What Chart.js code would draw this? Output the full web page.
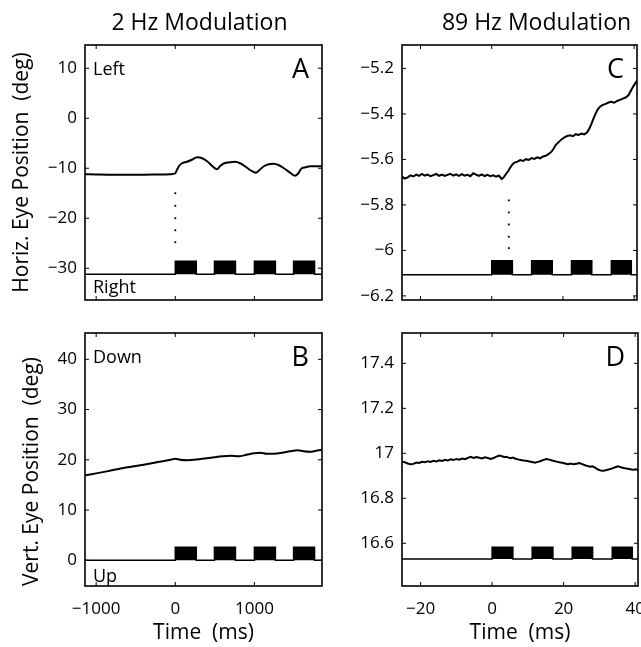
<!DOCTYPE html>
<html><head><meta charset="utf-8">
<script src="https://cdn.jsdelivr.net/npm/chart.js@4.4.0/dist/chart.umd.min.js"></script>
<style>
html,body{margin:0;padding:0;background:#fff;}
#wrap{position:relative;width:641px;height:647px;overflow:hidden;background:#fff;}
canvas{position:absolute;left:0;top:0;}
</style></head>
<body><div id="wrap">
<canvas id="cA" width="641" height="647"></canvas>
<canvas id="cB" width="641" height="647"></canvas>
<canvas id="cC" width="641" height="647"></canvas>
<canvas id="cD" width="641" height="647"></canvas>
</div>
<script>
// ---------------- data ----------------
const xTicks2Hz = [-1000, 0, 1000];
const xTicks89Hz = [-20, 0, 20, 40];
const yTicksA = [-30, -20, -10, 0, 10];
const yTicksB = [0, 10, 20, 30, 40];
const yTicksC = [-6.2, -6, -5.8, -5.6, -5.4, -5.2];
const yTicksD = [16.6, 16.8, 17, 17.2, 17.4];

// Panel A: horizontal eye position, 2 Hz (time in ms, deg)
const timeA = [-1141, -1000, -800, -600, -400, -200, -60, 0, 22, 50, 85, 147, 210, 277, 340, 410, 470, 526, 570, 620,
  690, 757, 820, 890, 960, 1018, 1060, 1120, 1180, 1240, 1310, 1390, 1460, 1513, 1550, 1598, 1650, 1703, 1780, 1854];
const horizA = [-11.2, -11.25, -11.3, -11.3, -11.3, -11.25, -11.2, -11.0, -10.3, -9.5, -9.0, -8.7, -8.3, -7.8, -8.0, -8.7, -9.6, -10.2, -9.5, -9.0,
  -8.8, -8.7, -9.0, -9.7, -10.5, -10.9, -10.4, -9.6, -9.2, -9.1, -9.4, -10.2, -11.0, -11.5, -11.1, -10.0, -9.8, -9.6, -9.6, -9.6];

// Panel B: vertical eye position, 2 Hz
const timeB = [-1141, -1000, -800, -600, -400, -200, -60, 0, 60, 150, 300, 450, 600, 700, 800, 900, 1000, 1080, 1150, 1250,
  1350, 1450, 1550, 1620, 1700, 1780, 1854];
const vertB = [16.9, 17.3, 17.9, 18.5, 19.0, 19.6, 20.0, 20.2, 20.0, 19.9, 20.1, 20.4, 20.7, 20.8, 20.7, 21.0, 21.3, 21.4, 21.2, 21.2,
  21.4, 21.7, 21.9, 21.7, 21.6, 21.8, 22.0];

// Panels C and D: 89 Hz (time in ms)
const time89 = [-25.2, -24.4, -23.6, -22.8, -22.0, -21.2, -20.4, -19.6, -18.8, -18.0,
  -17.2, -16.4, -15.6, -14.8, -14.0, -13.2, -12.4, -11.6, -10.8, -10.0,
  -9.2, -8.4, -7.6, -6.8, -6.0, -5.2, -4.4, -3.6, -2.8, -2.0,
  -1.2, -0.4, 0.4, 1.2, 2.0, 2.8, 3.4, 4.0, 4.6, 5.2,
  5.8, 6.4, 7.2, 8.0, 8.8, 9.6, 10.4, 11.2, 12.0, 12.8,
  13.6, 14.4, 15.2, 16.0, 16.8, 17.4, 18.0, 18.8, 19.6, 20.4,
  21.2, 22.0, 22.8, 23.6, 24.4, 25.2, 26.0, 26.8, 27.4, 28.0,
  28.6, 29.2, 29.8, 30.4, 31.2, 32.0, 32.8, 33.6, 34.4, 35.2,
  36.0, 36.8, 37.6, 38.4, 39.0, 39.6, 40.2, 40.8];
const horizC = [-5.676, -5.684, -5.679, -5.670, -5.675, -5.667, -5.672, -5.664, -5.671, -5.667,
  -5.674, -5.669, -5.664, -5.672, -5.667, -5.673, -5.668, -5.663, -5.671, -5.666,
  -5.672, -5.665, -5.671, -5.668, -5.674, -5.661, -5.667, -5.672, -5.666, -5.673,
  -5.668, -5.674, -5.670, -5.676, -5.671, -5.686, -5.678, -5.664, -5.652, -5.636,
  -5.622, -5.614, -5.610, -5.603, -5.607, -5.599, -5.602, -5.594, -5.598, -5.591,
  -5.595, -5.587, -5.584, -5.576, -5.566, -5.552, -5.536, -5.524, -5.512, -5.503,
  -5.497, -5.494, -5.498, -5.489, -5.492, -5.486, -5.490, -5.481, -5.465, -5.444,
  -5.420, -5.398, -5.380, -5.368, -5.360, -5.356, -5.350, -5.347, -5.351, -5.343,
  -5.338, -5.333, -5.328, -5.318, -5.300, -5.283, -5.268, -5.255];
const vertD = [16.963, 16.960, 16.955, 16.951, 16.953, 16.959, 16.957, 16.962, 16.960, 16.965,
  16.962, 16.967, 16.964, 16.969, 16.966, 16.971, 16.968, 16.973, 16.970, 16.975,
  16.972, 16.977, 16.974, 16.980, 16.984, 16.979, 16.983, 16.980, 16.977, 16.982,
  16.979, 16.975, 16.979, 16.985, 16.990, 16.987, 16.983, 16.985, 16.981, 16.978,
  16.981, 16.977, 16.973, 16.970, 16.968, 16.967, 16.964, 16.961, 16.958, 16.962,
  16.966, 16.971, 16.975, 16.972, 16.968, 16.966, 16.963, 16.960, 16.958, 16.955,
  16.952, 16.955, 16.951, 16.954, 16.957, 16.952, 16.947, 16.943, 16.940, 16.942,
  16.938, 16.932, 16.927, 16.923, 16.922, 16.926, 16.929, 16.933, 16.938, 16.942,
  16.938, 16.935, 16.932, 16.930, 16.928, 16.927, 16.929, 16.925];

// Stimulus (modulation) periods
const stimOn2Hz = [0, 495, 1000, 1495];
const stimOff2Hz = [265, 760, 1265, 1760];
const stimOn89Hz = [0, 11.2, 22.4, 33.6];
const stimOff89Hz = [5.8, 17.0, 28.1, 39.2];
const stimLevelsA = [-31.2, -28.6];
const stimLevelsB = [0, 2.6];
const stimLevelsC = [-6.107, -6.046];
const stimLevelsD = [16.53, 16.582];

// Dotted markers
const markerTimeA = 0;
const markerA = [-15, -17.5, -20, -22.4, -24.8];
const markerTimeC = 4.8;
const markerC = [-5.78, -5.833, -5.886, -5.94, -5.99];

// ---------------- drawing ----------------
const FONT = "'Open Sans', 'Noto Sans', sans-serif";
const minus = v => String(v).replace('-', '\u2212');

function stimPoints(on, off, levels, xmin, xmax) {
  const [base, top] = levels;
  const pts = [{x: xmin, y: base}];
  on.forEach((t, i) => {
    pts.push({x: t, y: base}, {x: t, y: top}, {x: off[i], y: top}, {x: off[i], y: base});
  });
  pts.push({x: xmax, y: base});
  return pts;
}
const zip = (xs, ys) => xs.map((x, i) => ({x, y: ys[i]}));

const decor = {
  id: 'decor',
  afterDraw(chart, args, o) {
    const {ctx, chartArea: a} = chart;
    const x = chart.scales.x, y = chart.scales.y;
    ctx.save();
    ctx.strokeStyle = '#000';
    ctx.lineWidth = 1.6;
    ctx.strokeRect(a.left, a.top, a.right - a.left, a.bottom - a.top);
    ctx.lineWidth = 1;
    ctx.beginPath();
    o.xTicks.forEach(v => {
      const px = x.getPixelForValue(v);
      ctx.moveTo(px, a.bottom); ctx.lineTo(px, a.bottom - 4);
      ctx.moveTo(px, a.top); ctx.lineTo(px, a.top + 4);
    });
    o.yTicks.forEach(v => {
      const py = y.getPixelForValue(v);
      ctx.moveTo(a.left, py); ctx.lineTo(a.left + 4, py);
      ctx.moveTo(a.right, py); ctx.lineTo(a.right - 4, py);
    });
    ctx.stroke();
    ctx.fillStyle = '#000';
    ctx.textBaseline = 'alphabetic';
    ctx.textAlign = 'left';
    ctx.font = '18px ' + FONT;
    if (o.topText) ctx.fillText(o.topText, a.left + 8, a.top + 30);
    if (o.bottomText) ctx.fillText(o.bottomText, a.left + 8, a.bottom - o.bottomGap);
    ctx.font = '27px ' + FONT;
    ctx.textAlign = 'right';
    ctx.fillText(o.letter, a.right - 13, a.top + 33);
    if (o.title) {
      ctx.font = '23px ' + FONT;
      ctx.textAlign = 'center';
      ctx.fillText(o.title, (a.left + a.right) / 2 + o.titleShift, a.top - 15);
    }
    ctx.restore();
  }
};

function panel(id, p) {
  const datasets = [
    {data: p.stim, borderColor: '#000', backgroundColor: '#000', borderWidth: 1.5,
     fill: {value: p.stimBase}, pointRadius: 0, tension: 0},
    {data: p.trace, borderColor: '#000', borderWidth: 2, fill: false, pointRadius: 0,
     tension: p.tension, cubicInterpolationMode: p.tension ? 'monotone' : 'default'}
  ];
  if (p.dots) datasets.push({data: p.dots, showLine: false, pointRadius: 1.3, pointStyle: 'rect',
     backgroundColor: '#000', borderWidth: 0});
  new Chart(document.getElementById(id), {
    type: 'line',
    data: {datasets},
    options: {
      responsive: false, animation: false, events: [],
      layout: {padding: p.pad},
      plugins: {legend: {display: false}, tooltip: {enabled: false}, decor: p.decor},
      scales: {
        x: {
          type: 'linear', position: 'bottom', min: p.xmin, max: p.xmax,
          afterBuildTicks: s => { s.ticks = p.xTicks.map(v => ({value: v})); },
          afterFit: s => { s.height = p.xh; s.paddingLeft = s.paddingRight = s.paddingTop = s.paddingBottom = 0; },
          grid: {display: false, drawTicks: false}, border: {display: false},
          ticks: {display: p.xLabels, padding: 13, color: '#000', font: {family: FONT, size: 17}, maxRotation: 0,
                  autoSkip: false, callback: v => minus(v)},
          title: {display: p.xLabels, text: 'Time  (ms)', color: '#000', font: {family: FONT, size: 21},
                  padding: {top: 0, bottom: 1}}
        },
        y: {
          type: 'linear', position: 'left', min: p.ymin, max: p.ymax,
          afterBuildTicks: s => { s.ticks = p.yTicks.map(v => ({value: v})); },
          afterFit: s => { s.width = p.yw; s.paddingLeft = s.paddingRight = s.paddingTop = s.paddingBottom = 0; },
          grid: {display: false, drawTicks: false}, border: {display: false},
          ticks: {padding: 8, color: '#000', font: {family: FONT, size: 17}, autoSkip: false,
                  callback: v => minus(v)},
          title: {display: !!p.yTitle, text: p.yTitle || '', color: '#000', align: p.yAlign || 'center',
                  font: {family: FONT, size: 21}, padding: {top: p.yTitlePad || 0, bottom: 0}}
        }
      }
    },
    plugins: [decor]
  });
}

const x2 = [-1141, 1854], x89 = [-25.2, 40.8];

panel('cA', {
  xmin: x2[0], xmax: x2[1], ymin: -36.35, ymax: 14.65, xTicks: xTicks2Hz, yTicks: yTicksA,
  pad: {left: 0, top: 45, right: 319, bottom: 347}, yw: 85, xh: 0, xLabels: false,
  yTitle: 'Horiz. Eye Position  (deg)', yTitlePad: 9,
  stim: stimPoints(stimOn2Hz, stimOff2Hz, stimLevelsA, x2[0], x2[1]), stimBase: stimLevelsA[0],
  trace: zip(timeA, horizA), tension: 0.4,
  dots: markerA.map(v => ({x: markerTimeA, y: v})),
  decor: {xTicks: xTicks2Hz, yTicks: yTicksA, topText: 'Left', bottomText: 'Right', bottomGap: 7,
          letter: 'A', title: '2 Hz Modulation', titleShift: -4}
});
panel('cB', {
  xmin: x2[0], xmax: x2[1], ymin: -5.11, ymax: 45.23, xTicks: xTicks2Hz, yTicks: yTicksB,
  pad: {left: 0, top: 333, right: 319, bottom: 0}, yw: 85, xh: 61, xLabels: true,
  yTitle: 'Vert. Eye Position  (deg)', yTitlePad: 19, yAlign: 'start',
  stim: stimPoints(stimOn2Hz, stimOff2Hz, stimLevelsB, x2[0], x2[1]), stimBase: stimLevelsB[0],
  trace: zip(timeB, vertB), tension: 0.4,
  decor: {xTicks: xTicks2Hz, yTicks: yTicksB, topText: 'Down', bottomText: 'Up', bottomGap: 4, letter: 'B'}
});
panel('cC', {
  xmin: x89[0], xmax: x89[1], ymin: -6.218, ymax: -5.097, xTicks: xTicks89Hz, yTicks: yTicksC,
  pad: {left: 322, top: 45, right: 3, bottom: 347}, yw: 80, xh: 0, xLabels: false,
  stim: stimPoints(stimOn89Hz, stimOff89Hz, stimLevelsC, x89[0], x89[1]), stimBase: stimLevelsC[0],
  trace: zip(time89, horizC), tension: 0,
  dots: markerC.map(v => ({x: markerTimeC, y: v})),
  decor: {xTicks: xTicks89Hz, yTicks: yTicksC, letter: 'C', title: '89 Hz Modulation', titleShift: 17}
});
panel('cD', {
  xmin: x89[0], xmax: x89[1], ymin: 16.41, ymax: 17.535, xTicks: xTicks89Hz, yTicks: yTicksD,
  pad: {left: 322, top: 333, right: 3, bottom: 0}, yw: 80, xh: 61, xLabels: true,
  stim: stimPoints(stimOn89Hz, stimOff89Hz, stimLevelsD, x89[0], x89[1]), stimBase: stimLevelsD[0],
  trace: zip(time89, vertD), tension: 0,
  decor: {xTicks: xTicks89Hz, yTicks: yTicksD, letter: 'D'}
});
</script>
</body></html>
